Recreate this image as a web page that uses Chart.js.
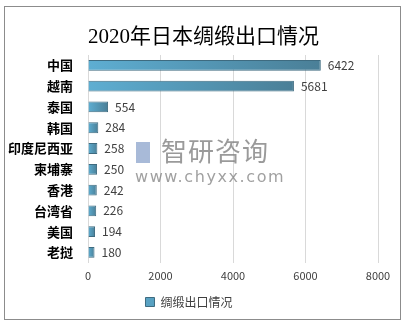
<!DOCTYPE html>
<html><head><meta charset="utf-8">
<script src="https://cdn.jsdelivr.net/npm/chart.js@4"></script>
<style>
html,body{margin:0;padding:0;background:#fff;}
#wrap{position:relative;width:407px;height:327px;}
#frame{position:absolute;left:4px;top:6px;width:395px;height:312px;border:1px solid #8c8c8c;pointer-events:none;}
#title{position:absolute;left:0;top:19px;width:407px;text-align:center;font:21px "Liberation Serif","Noto Sans CJK SC",serif;color:#000;}
#wm1{position:absolute;left:161px;top:134px;font:26px "Noto Sans CJK SC",sans-serif;color:rgba(120,120,120,0.75);letter-spacing:1px;line-height:1.2;}
#wm2{position:absolute;left:135px;top:167px;font:16px "DejaVu Sans",sans-serif;color:rgba(120,120,120,0.7);letter-spacing:1.6px;line-height:1.2;}
#logo{position:absolute;left:136px;top:142px;width:14px;height:21px;background:rgba(110,140,190,0.6);}
</style></head>
<body>
<div id="wrap">
<canvas id="c" width="407" height="327"></canvas>
<div id="title">2020年日本绸缎出口情况</div>
<div id="logo"></div>
<div id="wm1">智研咨询</div>
<div id="wm2">www.chyxx.com</div>
<div id="frame"></div>
</div>
<script>
const categories = ['中国','越南','泰国','韩国','印度尼西亚','柬埔寨','香港','台湾省','美国','老挝'];
const values = [6422,5681,554,284,258,250,242,226,194,180];
const seriesName = '绸缎出口情况';
const xTicks = [0,2000,4000,6000,8000];

const valueLabels = {
  id:'valueLabels',
  afterDatasetsDraw(chart){
    const ctx = chart.ctx;
    const meta = chart.getDatasetMeta(0);
    ctx.save();
    ctx.font = '12px "Noto Sans CJK SC", sans-serif';
    ctx.fillStyle = '#404040';
    ctx.textBaseline = 'middle';
    meta.data.forEach((el,i)=>{
      ctx.fillText(String(values[i]), el.x + 7, el.y);
    });
    ctx.restore();
  }
};

new Chart(document.getElementById('c'), {
  type:'bar',
  data:{
    labels:categories,
    datasets:[{
      label:seriesName,
      data:values,
      backgroundColor(ctx){
        const chart = ctx.chart;
        if(!chart.chartArea || ctx.type!=='data') return '#4f94b3';
        const x0 = chart.scales.x.getPixelForValue(0);
        const x1 = chart.scales.x.getPixelForValue(ctx.parsed.x);
        if(!isFinite(x1) || x1-x0<1) return '#4f94b3';
        const g = chart.ctx.createLinearGradient(x0,0,x1,0);
        g.addColorStop(0,'#5eaed2');
        g.addColorStop(1,'#4a7f97');
        return g;
      },
      borderColor:'#3e6b80',
      borderWidth:1,
      categoryPercentage:1,
      barPercentage:0.52
    }]
  },
  options:{
    indexAxis:'y',
    responsive:false,
    animation:false,
    layout:{padding:{top:55,right:29,left:0,bottom:9}},
    scales:{
      x:{
        min:xTicks[0],max:xTicks[xTicks.length-1],
        afterBuildTicks(s){ s.ticks = xTicks.map(v=>({value:v})); },
        ticks:{color:'#404040',font:{size:11,family:'"Noto Sans CJK SC", sans-serif'},padding:6,
               callback:(v)=>String(v)},
        grid:{color:'#d9d9d9',drawTicks:false},
        border:{display:false}
      },
      y:{
        ticks:{color:'#000',font:{size:13,weight:'bold',family:'"Noto Sans CJK SC", sans-serif'},padding:7},
        grid:{display:false},
        border:{display:true,color:'#d9d9d9'},
        afterFit(s){ s.width = 88; }
      }
    },
    plugins:{
      legend:{
        position:'bottom',
        labels:{boxWidth:9,boxHeight:9,color:'#404040',font:{size:12,family:'"Noto Sans CJK SC", sans-serif'},padding:8}
      },
      tooltip:{enabled:false}
    }
  },
  plugins:[valueLabels]
});
</script>
</body></html>
